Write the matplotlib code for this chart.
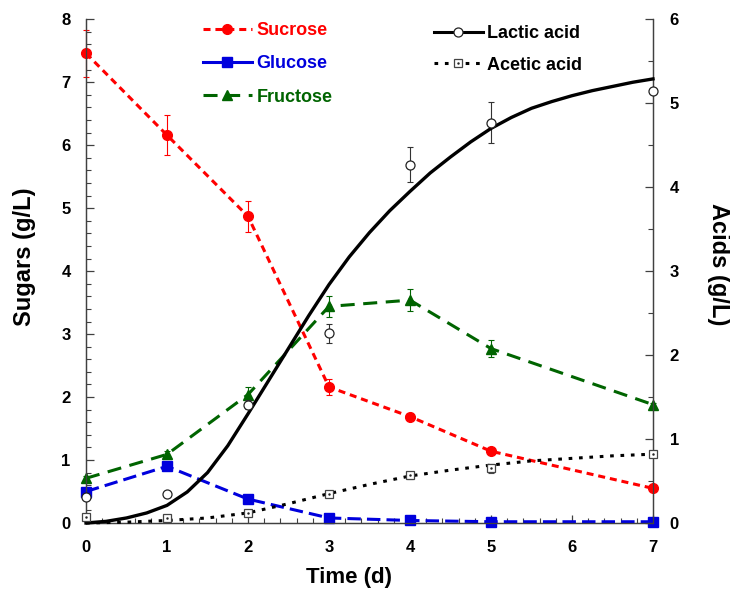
import matplotlib
matplotlib.use('Agg')
import matplotlib.pyplot as plt
from matplotlib.lines import Line2D
from matplotlib.ticker import MultipleLocator

plt.rcParams['font.family'] = ['Liberation Sans', 'DejaVu Sans']
plt.rcParams['font.weight'] = 'bold'

# ---------------- data ----------------
days = [0, 1, 2, 3, 4, 5, 7]
sucrose = [7.46, 6.16, 4.87, 2.16, 1.69, 1.14, 0.55]
sucrose_err = [0.37, 0.32, 0.25, 0.12, 0.06, 0.03, 0.03]
glucose = [0.50, 0.90, 0.38, 0.08, 0.04, 0.02, 0.02]
glucose_err = [0.03, 0.05, 0.03, 0.02, 0.01, 0.01, 0.01]
fructose = [0.71, 1.09, 2.04, 3.44, 3.54, 2.77, 1.88]
fructose_err = [0.03, 0.05, 0.12, 0.17, 0.18, 0.14, 0.03]
lactic = [0.31, 0.34, 1.41, 2.26, 4.27, 4.77, 5.15]
lactic_err = [0.02, 0.02, 0.05, 0.115, 0.21, 0.24, 0.02]
acetic = [0.07, 0.06, 0.12, 0.34, 0.57, 0.65, 0.82]
acetic_err = [0.04, 0.02, 0.04, 0.03, 0.04, 0.05, 0.03]

# fitted curves
lactic_fit_t = [0, 0.25, 0.5, 0.75, 1.0, 1.25, 1.5, 1.75, 2.0, 2.25, 2.5, 2.75, 3.0, 3.25,
                3.5, 3.75, 4.0, 4.25, 4.5, 4.75, 5.0, 5.25, 5.5, 5.75, 6.0, 6.25, 6.5, 6.75, 7.0]
lactic_fit = [0.00, 0.02, 0.06, 0.12, 0.21, 0.37, 0.60, 0.92, 1.30, 1.69, 2.08, 2.47, 2.84, 3.17,
              3.46, 3.72, 3.95, 4.17, 4.36, 4.54, 4.70, 4.83, 4.94, 5.02, 5.09, 5.15, 5.20, 5.25, 5.29]
acetic_fit_t = [0, 0.5, 1.0, 1.5, 2.0, 2.5, 3.0, 3.5, 4.0, 4.5, 5.0, 5.5, 6.0, 6.5, 7.0]
acetic_fit = [0.00, 0.01, 0.03, 0.06, 0.12, 0.23, 0.35, 0.46, 0.56, 0.63, 0.69, 0.74, 0.77, 0.80, 0.82]

x_ticks = [0, 1, 2, 3, 4, 5, 6, 7]

# ---------------- styles ----------------
RED = '#ff0000'
BLUE = '#0000dd'
GREEN = '#006400'
BLACK = '#000000'
SPINE = '#404040'

LW = 2.2
sucrose_ls = (0, (2.3, 1.6))
glucose_ls = (0, (4.4, 2.0))
fructose_ls = (0, (4.6, 2.8))
acetic_ls = (0, (1.2, 2.2))

fig = plt.figure(figsize=(7.3, 5.92), dpi=100)
ax = fig.add_axes([86 / 730, 1 - 523 / 592, 567 / 730, (523 - 19.3) / 592])
ax2 = ax.twinx()

# ---------------- sugars ----------------
ax.errorbar(days, sucrose, yerr=sucrose_err, fmt='none', ecolor=RED, elinewidth=0.8,
            capsize=2.5, capthick=0.8, clip_on=False, zorder=3)
ax.plot(days, sucrose, color=RED, ls=sucrose_ls, lw=LW, marker='o', ms=7,
        mfc=RED, mec=RED, clip_on=False, zorder=4)

ax.errorbar(days, glucose, yerr=glucose_err, fmt='none', ecolor=BLUE, elinewidth=0.8,
            capsize=2.5, capthick=0.8, clip_on=False, zorder=3)
ax.plot(days, glucose, color=BLUE, ls=glucose_ls, lw=LW, marker='s', ms=6.5,
        mfc=BLUE, mec=BLUE, clip_on=False, zorder=4)

ax.errorbar(days, fructose, yerr=fructose_err, fmt='none', ecolor=GREEN, elinewidth=0.8,
            capsize=2.5, capthick=0.8, clip_on=False, zorder=3)
ax.plot(days, fructose, color=GREEN, ls=fructose_ls, lw=LW, marker='^', ms=7,
        mfc=GREEN, mec=GREEN, clip_on=False, zorder=4)

# ---------------- acids ----------------
ax2.plot(lactic_fit_t, lactic_fit, color=BLACK, lw=2.4, ls='-', zorder=4, clip_on=False)
ax2.errorbar(days, lactic, yerr=lactic_err, fmt='none', ecolor='#333333', elinewidth=0.8,
             capsize=2.5, capthick=0.8, clip_on=False, zorder=3)
ax2.plot(days, lactic, ls='none', marker='o', ms=6.5, mfc='white', mec='#222222', mew=0.9,
         clip_on=False, zorder=5)

ax2.plot(acetic_fit_t, acetic_fit, color=BLACK, lw=LW, ls=acetic_ls, zorder=4, clip_on=False)
ax2.errorbar(days, acetic, yerr=acetic_err, fmt='none', ecolor='#444444', elinewidth=0.8,
             capsize=2.0, capthick=0.8, clip_on=False, zorder=3)
ax2.plot(days, acetic, ls='none', marker='s', ms=6, mfc='white', mec='#444444', mew=0.9,
         clip_on=False, zorder=5)
ax2.plot(days, acetic, ls='none', marker='.', ms=1.5, color='#222222', clip_on=False, zorder=6)

# ---------------- axes ----------------
ax.set_xlim(0, 7)
ax.set_ylim(0, 8)
ax2.set_ylim(0, 6)
ax.set_xticks(x_ticks)
ax.xaxis.set_minor_locator(MultipleLocator(0.2))
ax.yaxis.set_major_locator(MultipleLocator(1))
ax.yaxis.set_minor_locator(MultipleLocator(0.2))
ax2.yaxis.set_major_locator(MultipleLocator(1))
ax2.yaxis.set_minor_locator(MultipleLocator(0.5))

for a in (ax, ax2):
    a.spines['top'].set_visible(False)
    for s in ('left', 'right', 'bottom'):
        a.spines[s].set_color(SPINE)
        a.spines[s].set_linewidth(0.9)
    a.patch.set_visible(False)

ax.tick_params(axis='x', which='major', direction='in', length=6, width=0.9, color=SPINE,
               labelsize=12, pad=12.5)
ax.tick_params(axis='x', which='minor', direction='in', length=3.5, width=0.8, color=SPINE)
ax.tick_params(axis='y', which='major', direction='in', length=6, width=0.9, color=SPINE,
               labelsize=12, pad=11)
ax.tick_params(axis='y', which='minor', direction='in', length=3.5, width=0.8, color=SPINE)
ax2.tick_params(axis='y', which='major', direction='in', length=6, width=0.9, color=SPINE,
                labelsize=12, pad=12)
ax2.tick_params(axis='y', which='minor', direction='in', length=3.5, width=0.8, color=SPINE)

for lab in ax.get_xticklabels() + ax.get_yticklabels() + ax2.get_yticklabels():
    lab.set_fontweight('bold')

ax.set_xlabel('Time (d)', fontsize=16, fontweight='bold')
ax.xaxis.set_label_coords(0.464, -0.108)
ax.xaxis.label.set_verticalalignment('center')
ax.set_ylabel('Sugars (g/L)', fontsize=17, fontweight='bold')
ax.yaxis.set_label_coords(-0.109, 0.528)
ax.yaxis.label.set_verticalalignment('center')
ax2.set_ylabel('Acids (g/L)', fontsize=17, fontweight='bold', rotation=270)
ax2.yaxis.set_label_coords(1.115, 0.514)
ax2.yaxis.label.set_verticalalignment('center')

# ---------------- legends ----------------
h_suc = Line2D([], [], color=RED, ls=sucrose_ls, lw=LW, marker='o', ms=7, mfc=RED, mec=RED)
h_glu = Line2D([], [], color=BLUE, ls='-', lw=LW, marker='s', ms=6.5, mfc=BLUE, mec=BLUE)
h_fru = Line2D([], [], color=GREEN, ls=fructose_ls, lw=LW, marker='^', ms=7, mfc=GREEN, mec=GREEN)
leg1 = fig.legend([h_suc, h_glu, h_fru], ['Sucrose', 'Glucose', 'Fructose'],
                  loc='upper left', bbox_to_anchor=(203 / 730, 1 - 22 / 592),
                  frameon=False, handlelength=2.7, handletextpad=0.25,
                  labelspacing=0.9, borderpad=0, borderaxespad=0, numpoints=1,
                  labelcolor=[RED, BLUE, GREEN], prop={'weight': 'bold', 'size': 13})

h_lac = Line2D([], [], color=BLACK, ls='-', lw=LW, marker='o', ms=6.5, mfc='white', mec='#222222', mew=0.9)
h_ace = (Line2D([], [], color=BLACK, ls=acetic_ls, lw=LW, marker='s', ms=6, mfc='white', mec='#444444', mew=0.9),
         Line2D([], [], ls='none', marker='.', ms=1.5, color='#222222'))
leg2 = fig.legend([h_lac, h_ace], ['Lactic acid', 'Acetic acid'],
                  loc='upper left', bbox_to_anchor=(434 / 730, 1 - 25 / 592),
                  frameon=False, handlelength=2.7, handletextpad=0.25,
                  labelspacing=0.82, borderpad=0, borderaxespad=0, numpoints=1,
                  labelcolor=BLACK, prop={'weight': 'bold', 'size': 13})

fig.savefig('out.png', dpi=100)
